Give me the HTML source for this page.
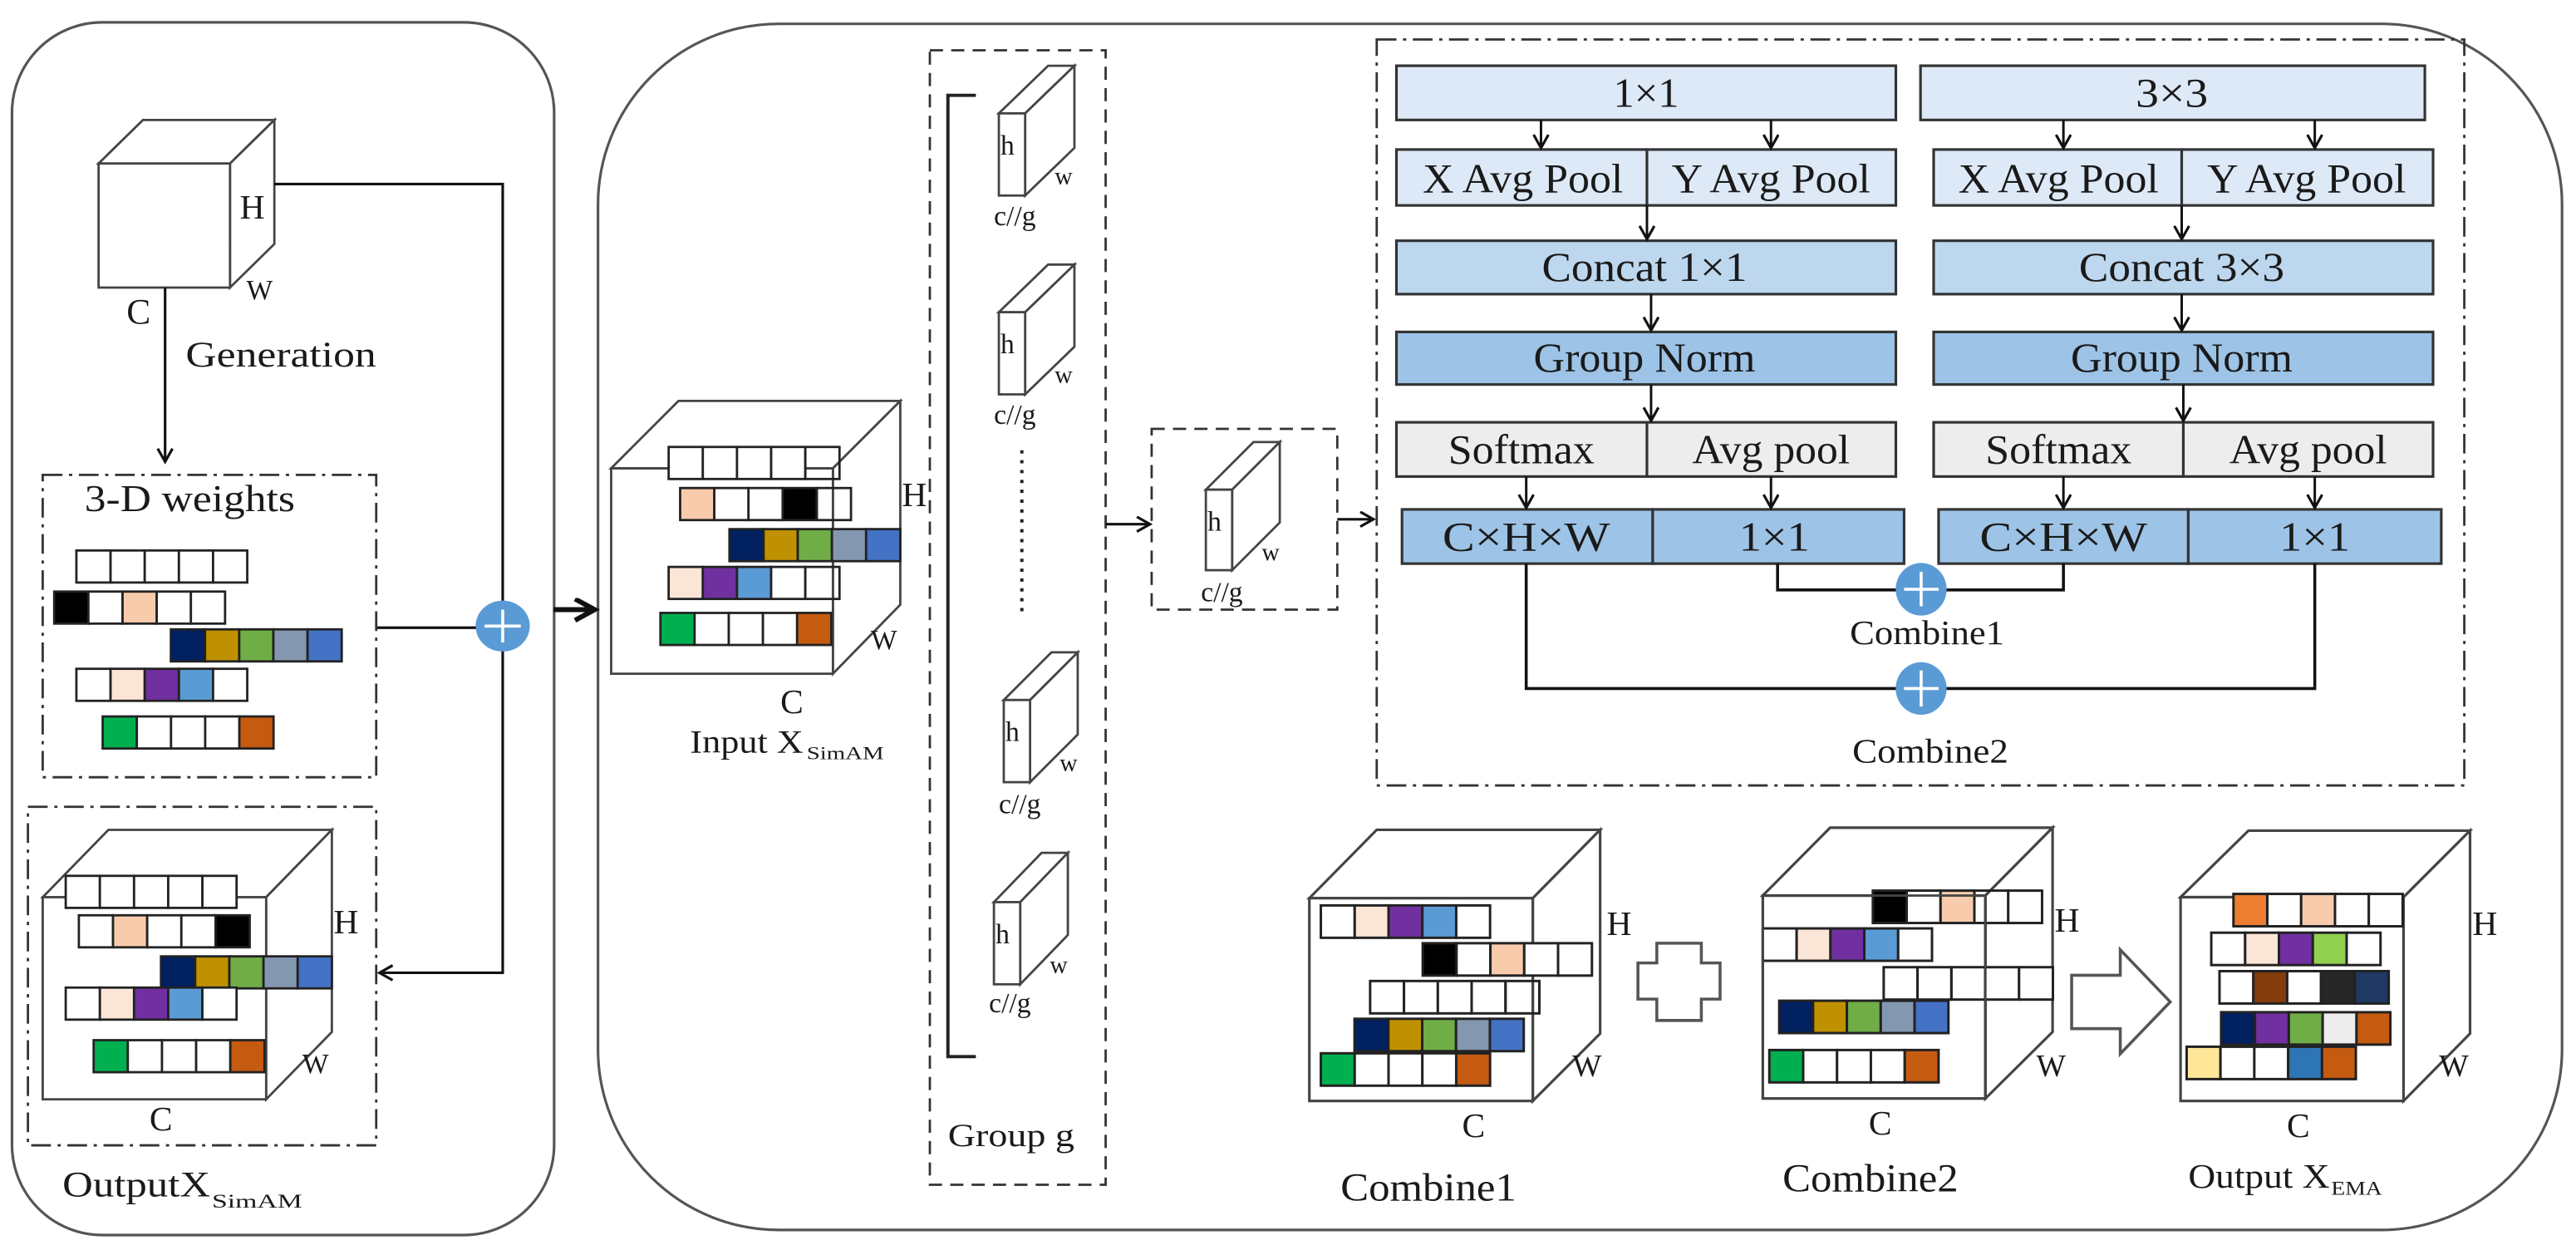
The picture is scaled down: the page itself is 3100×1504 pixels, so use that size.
<!DOCTYPE html>
<html><head><meta charset="utf-8"><style>
html,body{margin:0;padding:0;background:#fff;}
svg{display:block;}
text{font-family:"Liberation Serif",serif;fill:#1a1a1a;}
</style></head><body>
<svg width="3100" height="1504" viewBox="0 0 1568 760.7" preserveAspectRatio="none" xmlns="http://www.w3.org/2000/svg">
<defs>
<marker id="ah" markerUnits="userSpaceOnUse" markerWidth="14" markerHeight="14" refX="9" refY="5" orient="auto">
<path d="M1,0.5 L9,5 L1,9.5" fill="none" stroke="#111" stroke-width="1.6"/>
</marker>
<marker id="ahb" markerUnits="userSpaceOnUse" markerWidth="20" markerHeight="20" refX="13" refY="7" orient="auto">
<path d="M1,0.5 L13,7 L1,13.5" fill="none" stroke="#111" stroke-width="3"/>
</marker>
</defs>
<rect width="1568" height="761" fill="#fff"/>

<rect x="7.3" y="13.6" width="330" height="738" rx="55" fill="none" stroke="#555" stroke-width="1.6"/>
<rect x="364" y="14.5" width="1195.5" height="734" rx="110" fill="none" stroke="#555" stroke-width="1.6"/>

<g stroke="#444" stroke-width="1.4" fill="#fff">
<polygon points="60,99.5 87,73 167,73 140,99.5"/>
<polygon points="140,99.5 167,73 167,148.5 140,175"/>
<rect x="60" y="99.5" width="80" height="75.5"/>
</g>
<g fill="none" stroke="#111" stroke-width="1.6">
<line x1="100.5" y1="175" x2="100.5" y2="281" marker-end="url(#ah)"/>
<polyline points="167,112 306,112 306,592 231,592" marker-end="url(#ah)"/>
<line x1="229" y1="382" x2="292" y2="382"/>
<line x1="337" y1="371" x2="362" y2="371" stroke-width="3" marker-end="url(#ahb)"/>
</g>
<g fill="none" stroke="#333" stroke-width="1.4" stroke-dasharray="12 4 2 4">
<rect x="26" y="289" width="203" height="184"/>
<rect x="17" y="491" width="212" height="206"/>
<rect x="838" y="24" width="662" height="454"/>
</g>
<text x="113" y="223" font-size="22" textLength="116" lengthAdjust="spacingAndGlyphs">Generation</text>
<text x="77" y="197" font-size="22">C</text>
<text x="146" y="133" font-size="21">H</text>
<text x="150" y="182" font-size="17">W</text>
<text x="51.5" y="311" font-size="23" textLength="128" lengthAdjust="spacingAndGlyphs">3-D weights</text>

<g stroke="#222" stroke-width="1.4">
<g transform="translate(46.5,335)"><rect x="0" width="20.8" height="19.5" fill="#fff"/><rect x="20.8" width="20.8" height="19.5" fill="#fff"/><rect x="41.6" width="20.8" height="19.5" fill="#fff"/><rect x="62.4" width="20.8" height="19.5" fill="#fff"/><rect x="83.2" width="20.8" height="19.5" fill="#fff"/></g>
<g transform="translate(33,360)"><rect x="0" width="20.8" height="19.5" fill="#000"/><rect x="20.8" width="20.8" height="19.5" fill="#fff"/><rect x="41.6" width="20.8" height="19.5" fill="#f8cbad"/><rect x="62.4" width="20.8" height="19.5" fill="#fff"/><rect x="83.2" width="20.8" height="19.5" fill="#fff"/></g>
<g transform="translate(104,383)"><rect x="0" width="20.8" height="19.5" fill="#002060"/><rect x="20.8" width="20.8" height="19.5" fill="#bf9000"/><rect x="41.6" width="20.8" height="19.5" fill="#70ad47"/><rect x="62.4" width="20.8" height="19.5" fill="#8497b0"/><rect x="83.2" width="20.8" height="19.5" fill="#4472c4"/></g>
<g transform="translate(46.5,407)"><rect x="0" width="20.8" height="19.5" fill="#fff"/><rect x="20.8" width="20.8" height="19.5" fill="#fbe5d6"/><rect x="41.6" width="20.8" height="19.5" fill="#7030a0"/><rect x="62.4" width="20.8" height="19.5" fill="#5b9bd5"/><rect x="83.2" width="20.8" height="19.5" fill="#fff"/></g>
<g transform="translate(62.5,436)"><rect x="0" width="20.8" height="19.5" fill="#00b050"/><rect x="20.8" width="20.8" height="19.5" fill="#fff"/><rect x="41.6" width="20.8" height="19.5" fill="#fff"/><rect x="62.4" width="20.8" height="19.5" fill="#fff"/><rect x="83.2" width="20.8" height="19.5" fill="#c55a11"/></g>
</g>

<g stroke="#444" stroke-width="1.4" fill="#fff">
<polygon points="26,546 66,505 202,505 162,546"/>
<polygon points="162,546 202,505 202,628 162,669"/>
<rect x="26" y="546" width="136" height="123"/>
</g>
<g stroke="#222" stroke-width="1.4">
<g transform="translate(40,533)"><rect x="0" width="20.8" height="19.5" fill="#fff"/><rect x="20.8" width="20.8" height="19.5" fill="#fff"/><rect x="41.6" width="20.8" height="19.5" fill="#fff"/><rect x="62.4" width="20.8" height="19.5" fill="#fff"/><rect x="83.2" width="20.8" height="19.5" fill="#fff"/></g>
<g transform="translate(48,557)"><rect x="0" width="20.8" height="19.5" fill="#fff"/><rect x="20.8" width="20.8" height="19.5" fill="#f8cbad"/><rect x="41.6" width="20.8" height="19.5" fill="#fff"/><rect x="62.4" width="20.8" height="19.5" fill="#fff"/><rect x="83.2" width="20.8" height="19.5" fill="#000"/></g>
<g transform="translate(98,582)"><rect x="0" width="20.8" height="19.5" fill="#002060"/><rect x="20.8" width="20.8" height="19.5" fill="#bf9000"/><rect x="41.6" width="20.8" height="19.5" fill="#70ad47"/><rect x="62.4" width="20.8" height="19.5" fill="#8497b0"/><rect x="83.2" width="20.8" height="19.5" fill="#4472c4"/></g>
<g transform="translate(40,601)"><rect x="0" width="20.8" height="19.5" fill="#fff"/><rect x="20.8" width="20.8" height="19.5" fill="#fbe5d6"/><rect x="41.6" width="20.8" height="19.5" fill="#7030a0"/><rect x="62.4" width="20.8" height="19.5" fill="#5b9bd5"/><rect x="83.2" width="20.8" height="19.5" fill="#fff"/></g>
<g transform="translate(57,633)"><rect x="0" width="20.8" height="19.5" fill="#00b050"/><rect x="20.8" width="20.8" height="19.5" fill="#fff"/><rect x="41.6" width="20.8" height="19.5" fill="#fff"/><rect x="62.4" width="20.8" height="19.5" fill="#fff"/><rect x="83.2" width="20.8" height="19.5" fill="#c55a11"/></g>
</g>
<text x="203" y="568" font-size="21">H</text>
<text x="184" y="653" font-size="17">W</text>
<text x="91" y="688" font-size="21">C</text>
<text x="38" y="728" font-size="22" textLength="90" lengthAdjust="spacingAndGlyphs">OutputX</text>
<text x="129" y="735" font-size="12" textLength="55" lengthAdjust="spacingAndGlyphs">SimAM</text>

<ellipse cx="306" cy="381" rx="16.5" ry="15.5" fill="#5b9bd5"/>
<path d="M295,381 H317 M306,371 V391" stroke="#fff" stroke-width="1.8"/>

<g stroke="#444" stroke-width="1.4" fill="#fff">
<polygon points="372,285 413,244 548,244 507,285"/>
<polygon points="507,285 548,244 548,368 507,410"/>
<rect x="372" y="285" width="135" height="125" fill="none"/>
</g>
<g stroke="#222" stroke-width="1.4">
<g transform="translate(407,272)"><rect x="0" width="20.8" height="19.5" fill="#fff"/><rect x="20.8" width="20.8" height="19.5" fill="#fff"/><rect x="41.6" width="20.8" height="19.5" fill="#fff"/><rect x="62.4" width="20.8" height="19.5" fill="#fff"/><rect x="83.2" width="20.8" height="19.5" fill="#fff" fill-opacity="0"/></g>
<g transform="translate(414,297)"><rect x="0" width="20.8" height="19.5" fill="#f8cbad"/><rect x="20.8" width="20.8" height="19.5" fill="#fff"/><rect x="41.6" width="20.8" height="19.5" fill="#fff"/><rect x="62.4" width="20.8" height="19.5" fill="#000"/><rect x="83.2" width="20.8" height="19.5" fill="#fff" fill-opacity="0"/></g>
<g transform="translate(444,322)"><rect x="0" width="20.8" height="19.5" fill="#002060"/><rect x="20.8" width="20.8" height="19.5" fill="#bf9000"/><rect x="41.6" width="20.8" height="19.5" fill="#70ad47"/><rect x="62.4" width="20.8" height="19.5" fill="#8497b0"/><rect x="83.2" width="20.8" height="19.5" fill="#4472c4"/></g>
<g transform="translate(407,345)"><rect x="0" width="20.8" height="19.5" fill="#fbe5d6"/><rect x="20.8" width="20.8" height="19.5" fill="#7030a0"/><rect x="41.6" width="20.8" height="19.5" fill="#5b9bd5"/><rect x="62.4" width="20.8" height="19.5" fill="#fff"/><rect x="83.2" width="20.8" height="19.5" fill="#fff" fill-opacity="0"/></g>
<g transform="translate(402,373)"><rect x="0" width="20.8" height="19.5" fill="#00b050"/><rect x="20.8" width="20.8" height="19.5" fill="#fff"/><rect x="41.6" width="20.8" height="19.5" fill="#fff"/><rect x="62.4" width="20.8" height="19.5" fill="#fff"/><rect x="83.2" width="20.8" height="19.5" fill="#c55a11"/></g>
</g>
<text x="549" y="308" font-size="21">H</text>
<text x="530" y="395" font-size="17">W</text>
<text x="475" y="434" font-size="21">C</text>
<text x="420" y="458" font-size="20" textLength="69" lengthAdjust="spacingAndGlyphs">Input X</text>
<text x="491" y="462" font-size="11" textLength="47" lengthAdjust="spacingAndGlyphs">SimAM</text>

<rect x="566" y="30.6" width="107" height="690.4" fill="none" stroke="#333" stroke-width="1.4" stroke-dasharray="8 5"/>
<path d="M594,58 H577 V643 H594" fill="none" stroke="#222" stroke-width="2"/>
<line x1="622" y1="274" x2="622" y2="376" stroke="#222" stroke-width="2" stroke-dasharray="2 4"/>
<g stroke="#444" stroke-width="1.4" fill="#fff">
<polygon points="608,69 638,40 654,40 624,69"/><polygon points="624,69 654,40 654,90 624,119"/><rect x="608" y="69" width="16" height="50"/>
<polygon points="608,190 638,161 654,161 624,190"/><polygon points="624,190 654,161 654,211 624,240"/><rect x="608" y="190" width="16" height="50"/>
<polygon points="611,426 640,397 656,397 627,426"/><polygon points="627,426 656,397 656,447 627,476"/><rect x="611" y="426" width="16" height="50"/>
<polygon points="605,549 634,519 650,519 621,549"/><polygon points="621,549 650,519 650,569 621,599"/><rect x="605" y="549" width="16" height="50"/>
<polygon points="734,298 763,269 779,269 750,298"/><polygon points="750,298 779,269 779,318 750,347"/><rect x="734" y="298" width="16" height="49"/>
</g>
<g font-size="17">
<text x="609" y="94">h</text><text x="642" y="112" font-size="15">w</text><text x="605" y="137">c//g</text>
<text x="609" y="215">h</text><text x="642" y="233" font-size="15">w</text><text x="605" y="258">c//g</text>
<text x="612" y="451">h</text><text x="645" y="469" font-size="15">w</text><text x="608" y="495">c//g</text>
<text x="606" y="574">h</text><text x="639" y="592" font-size="15">w</text><text x="602" y="616">c//g</text>
<text x="735" y="323">h</text><text x="768" y="341" font-size="15">w</text><text x="731" y="366">c//g</text>
</g>
<text x="577" y="697.5" font-size="20" textLength="77" lengthAdjust="spacingAndGlyphs">Group g</text>
<rect x="701" y="261" width="113" height="110" fill="none" stroke="#333" stroke-width="1.4" stroke-dasharray="8 5"/>
<g fill="none" stroke="#111" stroke-width="1.6">
<line x1="673" y1="319" x2="700" y2="319" marker-end="url(#ah)"/>
<line x1="814" y1="316" x2="836" y2="316" marker-end="url(#ah)"/>
</g>

<g stroke="#333" stroke-width="1.6">
<rect x="850" y="40" width="304" height="33" fill="#dde9f6"/>
<rect x="1169" y="40" width="307" height="33" fill="#dde9f6"/>
<rect x="850" y="91" width="152.5" height="34" fill="#dde9f6"/><rect x="1002.5" y="91" width="151.5" height="34" fill="#dde9f6"/>
<rect x="1177" y="91" width="151" height="34" fill="#dde9f6"/><rect x="1328" y="91" width="153" height="34" fill="#dde9f6"/>
<rect x="850" y="146.5" width="304" height="32.5" fill="#bdd7ee"/>
<rect x="1177" y="146.5" width="304" height="32.5" fill="#bdd7ee"/>
<rect x="850" y="202" width="304" height="32" fill="#9dc3e6"/>
<rect x="1177" y="202" width="304" height="32" fill="#9dc3e6"/>
<rect x="850" y="257" width="152.5" height="33" fill="#ededed"/><rect x="1002.5" y="257" width="151.5" height="33" fill="#ededed"/>
<rect x="1177" y="257" width="152" height="33" fill="#ededed"/><rect x="1329" y="257" width="152" height="33" fill="#ededed"/>
<rect x="853.4" y="310" width="152.6" height="33" fill="#9dc3e6"/><rect x="1006" y="310" width="153" height="33" fill="#9dc3e6"/>
<rect x="1180" y="310" width="152" height="33" fill="#9dc3e6"/><rect x="1332" y="310" width="154" height="33" fill="#9dc3e6"/>
</g>
<g fill="none" stroke="#111" stroke-width="1.5">
<line x1="938" y1="73" x2="938" y2="90" marker-end="url(#ah)"/><line x1="1078" y1="73" x2="1078" y2="90" marker-end="url(#ah)"/>
<line x1="1256" y1="73" x2="1256" y2="90" marker-end="url(#ah)"/><line x1="1409" y1="73" x2="1409" y2="90" marker-end="url(#ah)"/>
<line x1="1002.5" y1="125" x2="1002.5" y2="145.5" marker-end="url(#ah)"/><line x1="1328" y1="125" x2="1328" y2="145.5" marker-end="url(#ah)"/>
<line x1="1005" y1="179" x2="1005" y2="201" marker-end="url(#ah)"/><line x1="1328" y1="179" x2="1328" y2="201" marker-end="url(#ah)"/>
<line x1="1005" y1="234" x2="1005" y2="256" marker-end="url(#ah)"/><line x1="1329" y1="234" x2="1329" y2="256" marker-end="url(#ah)"/>
<line x1="929" y1="290" x2="929" y2="309" marker-end="url(#ah)"/><line x1="1078" y1="290" x2="1078" y2="309" marker-end="url(#ah)"/>
<line x1="1256" y1="290" x2="1256" y2="309" marker-end="url(#ah)"/><line x1="1409" y1="290" x2="1409" y2="309" marker-end="url(#ah)"/>
<path d="M1082,343 V359 H1256 V343" stroke-width="1.8"/>
<path d="M929,343 V419 H1409 V343" stroke-width="1.8"/>
</g>
<ellipse cx="1169.4" cy="358.6" rx="15.5" ry="16" fill="#5b9bd5"/>
<path d="M1159,358.6 H1180 M1169.4,348 V369" stroke="#fff" stroke-width="1.8"/>
<ellipse cx="1169.4" cy="419" rx="15.5" ry="16" fill="#5b9bd5"/>
<path d="M1159,419 H1180 M1169.4,408 V430" stroke="#fff" stroke-width="1.8"/>
<g font-size="25" text-anchor="middle">
<text x="1002" y="65" textLength="40" lengthAdjust="spacingAndGlyphs">1×1</text>
<text x="1322" y="65" textLength="44" lengthAdjust="spacingAndGlyphs">3×3</text>
<text x="927" y="117" textLength="122" lengthAdjust="spacingAndGlyphs">X Avg Pool</text>
<text x="1078" y="117" textLength="121" lengthAdjust="spacingAndGlyphs">Y Avg Pool</text>
<text x="1253" y="117" textLength="122" lengthAdjust="spacingAndGlyphs">X Avg Pool</text>
<text x="1404" y="117" textLength="121" lengthAdjust="spacingAndGlyphs">Y Avg Pool</text>
<text x="1001" y="171" textLength="125" lengthAdjust="spacingAndGlyphs">Concat 1×1</text>
<text x="1328" y="171" textLength="125" lengthAdjust="spacingAndGlyphs">Concat 3×3</text>
<text x="1001" y="226" textLength="135" lengthAdjust="spacingAndGlyphs">Group Norm</text>
<text x="1328" y="226" textLength="135" lengthAdjust="spacingAndGlyphs">Group Norm</text>
<text x="926" y="282" textLength="89" lengthAdjust="spacingAndGlyphs">Softmax</text>
<text x="1078" y="282" textLength="96" lengthAdjust="spacingAndGlyphs">Avg pool</text>
<text x="1253" y="282" textLength="89" lengthAdjust="spacingAndGlyphs">Softmax</text>
<text x="1405" y="282" textLength="96" lengthAdjust="spacingAndGlyphs">Avg pool</text>
<text x="929" y="335" textLength="102" lengthAdjust="spacingAndGlyphs">C×H×W</text>
<text x="1080" y="335" textLength="43" lengthAdjust="spacingAndGlyphs">1×1</text>
<text x="1256" y="335" textLength="102" lengthAdjust="spacingAndGlyphs">C×H×W</text>
<text x="1409" y="335" textLength="43" lengthAdjust="spacingAndGlyphs">1×1</text>
<text x="1173" y="392" font-size="21" textLength="94" lengthAdjust="spacingAndGlyphs">Combine1</text>
<text x="1175" y="464" font-size="21" textLength="95" lengthAdjust="spacingAndGlyphs">Combine2</text>
</g>

<g stroke="#444" stroke-width="1.6" fill="#fff">
<polygon points="797,546.6 838,505 974,505 933,546.6"/><polygon points="933,546.6 974,505 974,629 933,670"/><rect x="797" y="546.6" width="136" height="123.4"/>
<polygon points="1073,545 1114,503.7 1249.4,503.7 1208.5,545"/><polygon points="1208.5,545 1249.4,503.7 1249.4,628 1208.5,668.5"/><rect x="1073" y="545" width="135.5" height="123.5" fill="none"/>
<polygon points="1327.3,546 1368.6,505.5 1503.5,505.5 1463,546"/><polygon points="1463,546 1503.5,505.5 1503.5,629 1463,670"/><rect x="1327.3" y="546" width="135.7" height="124"/>
</g>
<g stroke="#222" stroke-width="1.5">
<g transform="translate(804,551)"><rect x="0" width="20.6" height="19.7" fill="#fff"/><rect x="20.6" width="20.6" height="19.7" fill="#fbe5d6"/><rect x="41.2" width="20.6" height="19.7" fill="#7030a0"/><rect x="61.8" width="20.6" height="19.7" fill="#5b9bd5"/><rect x="82.4" width="20.6" height="19.7" fill="#fff"/></g>
<g transform="translate(866,574)"><rect x="0" width="20.6" height="19.7" fill="#000"/><rect x="20.6" width="20.6" height="19.7" fill="#fff"/><rect x="41.2" width="20.6" height="19.7" fill="#f8cbad"/><rect x="61.8" width="20.6" height="19.7" fill="#fff"/><rect x="82.4" width="20.6" height="19.7" fill="#fff"/></g>
<g transform="translate(834,597)"><rect x="0" width="20.6" height="19.7" fill="#fff"/><rect x="20.6" width="20.6" height="19.7" fill="#fff"/><rect x="41.2" width="20.6" height="19.7" fill="#fff"/><rect x="61.8" width="20.6" height="19.7" fill="#fff"/><rect x="82.4" width="20.6" height="19.7" fill="#fff" fill-opacity="0"/></g>
<g transform="translate(824.5,620)"><rect x="0" width="20.6" height="19.7" fill="#002060"/><rect x="20.6" width="20.6" height="19.7" fill="#bf9000"/><rect x="41.2" width="20.6" height="19.7" fill="#70ad47"/><rect x="61.8" width="20.6" height="19.7" fill="#8497b0"/><rect x="82.4" width="20.6" height="19.7" fill="#4472c4"/></g>
<g transform="translate(804,641)"><rect x="0" width="20.6" height="19.7" fill="#00b050"/><rect x="20.6" width="20.6" height="19.7" fill="#fff"/><rect x="41.2" width="20.6" height="19.7" fill="#fff"/><rect x="61.8" width="20.6" height="19.7" fill="#fff"/><rect x="82.4" width="20.6" height="19.7" fill="#c55a11"/></g>
<g transform="translate(1140,542)"><rect x="0" width="20.6" height="19.7" fill="#000"/><rect x="20.6" width="20.6" height="19.7" fill="#fff"/><rect x="41.2" width="20.6" height="19.7" fill="#f8cbad"/><rect x="61.8" width="20.6" height="19.7" fill="#fff" fill-opacity="0"/><rect x="82.4" width="20.6" height="19.7" fill="#fff"/></g>
<g transform="translate(1073,565)"><rect x="0" width="20.6" height="19.7" fill="#fff"/><rect x="20.6" width="20.6" height="19.7" fill="#fbe5d6"/><rect x="41.2" width="20.6" height="19.7" fill="#7030a0"/><rect x="61.8" width="20.6" height="19.7" fill="#5b9bd5"/><rect x="82.4" width="20.6" height="19.7" fill="#fff"/></g>
<g transform="translate(1146.6,588.6)"><rect x="0" width="20.6" height="19.7" fill="#fff"/><rect x="20.6" width="20.6" height="19.7" fill="#fff"/><rect x="41.2" width="20.6" height="19.7" fill="#fff" fill-opacity="0"/><rect x="61.8" width="20.6" height="19.7" fill="#fff"/><rect x="82.4" width="20.6" height="19.7" fill="#fff"/></g>
<g transform="translate(1083,609)"><rect x="0" width="20.6" height="19.7" fill="#002060"/><rect x="20.6" width="20.6" height="19.7" fill="#bf9000"/><rect x="41.2" width="20.6" height="19.7" fill="#70ad47"/><rect x="61.8" width="20.6" height="19.7" fill="#8497b0"/><rect x="82.4" width="20.6" height="19.7" fill="#4472c4"/></g>
<g transform="translate(1077,639)"><rect x="0" width="20.6" height="19.7" fill="#00b050"/><rect x="20.6" width="20.6" height="19.7" fill="#fff"/><rect x="41.2" width="20.6" height="19.7" fill="#fff"/><rect x="61.8" width="20.6" height="19.7" fill="#fff"/><rect x="82.4" width="20.6" height="19.7" fill="#c55a11"/></g>
<g transform="translate(1359.5,544)"><rect x="0" width="20.6" height="19.7" fill="#ed7d31"/><rect x="20.6" width="20.6" height="19.7" fill="#fff"/><rect x="41.2" width="20.6" height="19.7" fill="#f8cbad"/><rect x="61.8" width="20.6" height="19.7" fill="#fff"/><rect x="82.4" width="20.6" height="19.7" fill="#fff"/></g>
<g transform="translate(1346,567.6)"><rect x="0" width="20.6" height="19.7" fill="#fff"/><rect x="20.6" width="20.6" height="19.7" fill="#fbe5d6"/><rect x="41.2" width="20.6" height="19.7" fill="#7030a0"/><rect x="61.8" width="20.6" height="19.7" fill="#92d050"/><rect x="82.4" width="20.6" height="19.7" fill="#fff"/></g>
<g transform="translate(1351,591)"><rect x="0" width="20.6" height="19.7" fill="#fff"/><rect x="20.6" width="20.6" height="19.7" fill="#843c0c"/><rect x="41.2" width="20.6" height="19.7" fill="#fff"/><rect x="61.8" width="20.6" height="19.7" fill="#262626"/><rect x="82.4" width="20.6" height="19.7" fill="#1f3864"/></g>
<g transform="translate(1352,616)"><rect x="0" width="20.6" height="19.7" fill="#002060"/><rect x="20.6" width="20.6" height="19.7" fill="#7030a0"/><rect x="41.2" width="20.6" height="19.7" fill="#70ad47"/><rect x="61.8" width="20.6" height="19.7" fill="#ededed"/><rect x="82.4" width="20.6" height="19.7" fill="#c55a11"/></g>
<g transform="translate(1331,637)"><rect x="0" width="20.6" height="19.7" fill="#ffe699"/><rect x="20.6" width="20.6" height="19.7" fill="#fff"/><rect x="41.2" width="20.6" height="19.7" fill="#fff"/><rect x="61.8" width="20.6" height="19.7" fill="#2e75b6"/><rect x="82.4" width="20.6" height="19.7" fill="#c55a11"/></g>
</g>
<rect x="1073" y="545" width="135.5" height="123.5" fill="none" stroke="#444" stroke-width="1.4"/>

<path d="M1008.5,574 H1035.6 V586 H1047 V608 H1035.6 V621 H1008.5 V608 H997 V586 H1008.5 Z" fill="#fff" stroke="#555" stroke-width="1.8"/>
<path d="M1261,593.5 H1290.6 V578 L1321,609.7 L1290.6,641.3 V626 H1261 Z" fill="#fff" stroke="#555" stroke-width="1.8"/>

<text x="978" y="569" font-size="21">H</text>
<text x="957" y="655" font-size="19">W</text>
<text x="890" y="692" font-size="21">C</text>
<text x="816" y="730.7" font-size="24" textLength="107" lengthAdjust="spacingAndGlyphs">Combine1</text>
<text x="1250.6" y="567" font-size="21">H</text>
<text x="1239.5" y="655" font-size="19">W</text>
<text x="1137.5" y="690.5" font-size="21">C</text>
<text x="1085" y="725" font-size="24" textLength="107" lengthAdjust="spacingAndGlyphs">Combine2</text>
<text x="1505" y="569" font-size="21">H</text>
<text x="1484.7" y="655" font-size="19">W</text>
<text x="1392" y="692" font-size="21">C</text>
<text x="1332" y="722.7" font-size="21" textLength="86" lengthAdjust="spacingAndGlyphs">Output X</text>
<text x="1419" y="727" font-size="12" textLength="31" lengthAdjust="spacingAndGlyphs">EMA</text>
</svg>
</body></html>
